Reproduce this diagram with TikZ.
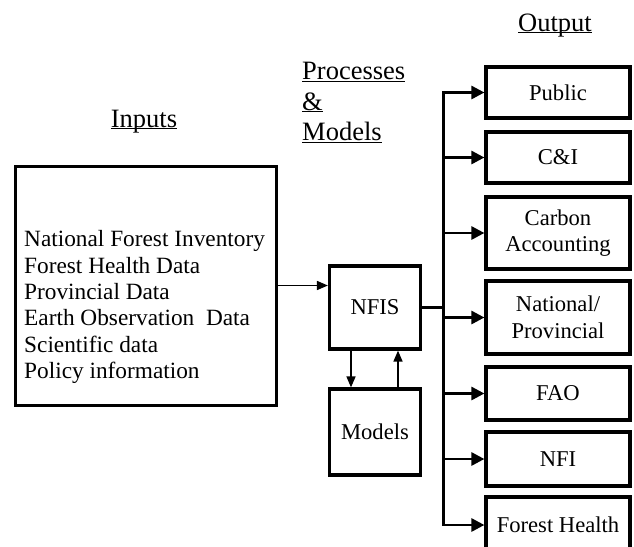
\documentclass[tikz,border=0pt]{standalone}
\usepackage{fontspec}
\setmainfont{Liberation Serif}
\usetikzlibrary{arrows.meta}

\newcommand\ulabel[1]{\underline{\smash{#1}}}

\tikzset{
  box/.style={draw, line width=3.2pt, inner sep=0pt, align=center},
  thinarr/.style={line width=1.6pt, -{Triangle[length=11pt,width=9pt]}},
  outarr/.style={line width=2.8pt, -{Triangle[length=13pt,width=13pt]}},
  bus/.style={line width=2.8pt, line cap=rect},
  heading/.style={font=\fontsize{26.5}{30.5}\selectfont, anchor=base, inner sep=0pt, align=left}
}

\begin{document}
\begin{tikzpicture}[x=1pt, y=-1pt, font=\fontsize{22.6}{26.5}\selectfont]
  \useasboundingbox (0,0) rectangle (634,546);
  % headings
  \node[heading] (hin) at (144,127) {\ulabel{Inputs}};
  \node[heading, anchor=base west] (hproc) at (302,140.5) {\ulabel{Processes}\\ \ulabel{\&}\\ \ulabel{Models}};
  \node[heading] (hout) at (555,31) {\ulabel{Output}};
  % inputs
  \node[box, line width=3pt, minimum width=261pt, minimum height=239pt] (inputs) at (145.5,285.5) {};
  \node[anchor=west, align=left, inner sep=0pt, font=\fontsize{23.3}{26.3}\selectfont] (inlist) at (24,307) {National Forest Inventory\\ Forest Health Data\\ Provincial Data\\ Earth Observation\ \ Data\\ Scientific data\\ Policy information};
  % processes
  \node[box, minimum width=91pt, minimum height=83pt] (nfis) at (375,307.5) {NFIS};
  \node[box, minimum width=91pt, minimum height=86pt] (models) at (375,432) {Models};
  % outputs
  \node[box, minimum width=144pt, minimum height=51pt] (pub) at (558,92.5) {Public};
  \node[box, minimum width=144pt, minimum height=51pt] (ci) at (558,157.5) {C\&I};
  \node[box, minimum width=144pt, minimum height=72pt] (carb) at (558,233) {Carbon\\ Accounting};
  \node[box, minimum width=144pt, minimum height=73pt] (natp) at (558,317.5) {National/\\ Provincial};
  \node[box, minimum width=144pt, minimum height=53pt] (fao) at (558,393.5) {FAO};
  \node[box, minimum width=144pt, minimum height=54pt] (nfi) at (558,459) {NFI};
  \node[box, minimum width=144pt, minimum height=56pt] (fh) at (558,525) {Forest Health};
  \path (pub.west) ++(-41,0) coordinate (bustop);
  \path (fh.west) ++(-41,0) coordinate (busbot);
  % connectors
  \draw[thinarr] (inputs.east) -- (inputs.east -| nfis.west);
  \draw[thinarr] ([xshift=-24pt]nfis.south) -- ([xshift=-24pt]models.north);
  \draw[thinarr] ([xshift=23pt]models.north) -- ([xshift=23pt]nfis.south);
  \draw[bus] (bustop) -- (busbot);
  \draw[bus, line cap=butt] (nfis.east) -- (nfis.east -| bustop);
  \draw[outarr] (bustop |- pub.west) -- (pub.west);
  \draw[outarr] (bustop |- ci.west) -- (ci.west);
  \draw[outarr] (bustop |- carb.west) -- (carb.west);
  \draw[outarr] (bustop |- natp.west) -- (natp.west);
  \draw[outarr] (bustop |- fao.west) -- (fao.west);
  \draw[outarr] (bustop |- nfi.west) -- (nfi.west);
  \draw[outarr] (bustop |- fh.west) -- (fh.west);
\end{tikzpicture}
\end{document}
